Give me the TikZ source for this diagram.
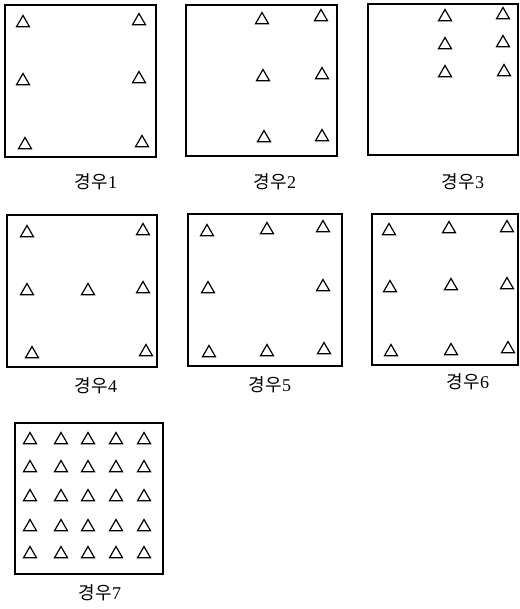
\documentclass[tikz,border=0pt]{standalone}
\usepackage{fontspec}
\setmainfont{Liberation Serif}
\newfontfamily\krfont{Noto Sans CJK KR}
\usetikzlibrary{shapes.geometric}
\tikzset{
  tri/.style={draw=black, line width=1.2pt, regular polygon, regular polygon sides=3, minimum size=15pt, inner sep=0pt},
  frame/.style={draw=black, line width=1.3pt},
  caplabel/.style={font=\fontsize{18pt}{20pt}\selectfont, inner sep=0pt}
}
\newcommand{\lbl}[1]{{\krfont 경우}#1}
\begin{document}
\begin{tikzpicture}[x=1pt,y=-1pt]
\useasboundingbox (0,0) rectangle (519,609);
% box 1
\draw[frame] (5,5) rectangle (156,157);
\foreach \p [count=\i] in {(23,23),(139,21),(23,81),(139,79),(25,145),(142,143)}
  \node[tri] (a\i) at \p {};
\node[caplabel] (c1) at (96,182) {\lbl{1}};
% box 2
\draw[frame] (186,5) rectangle (337,156);
\foreach \p [count=\i] in {(262,20),(321,17),(263,77),(322,75),(264,138),(322,137)}
  \node[tri] (b\i) at \p {};
\node[caplabel] (c2) at (275,182) {\lbl{2}};
% box 3
\draw[frame] (368,4) rectangle (518,155);
\foreach \p [count=\i] in {(445,17),(503,15),(445,45),(503,43),(445,73),(504,72)}
  \node[tri] (d\i) at \p {};
\node[caplabel] (c3) at (463,182) {\lbl{3}};
% box 4
\draw[frame] (7,215) rectangle (157,367);
\foreach \p [count=\i] in {(27,233),(143,231),(27,291),(88,291),(143,289),(32,354),(146,352)}
  \node[tri] (e\i) at \p {};
\node[caplabel] (c4) at (96,386) {\lbl{4}};
% box 5
\draw[frame] (188,214) rectangle (342,366);
\foreach \p [count=\i] in {(207,232),(267,230),(323,228),(208,289),(323,287),(209,353),(267,352),(324,350)}
  \node[tri] (f\i) at \p {};
\node[caplabel] (c5) at (270,385) {\lbl{5}};
% box 6
\draw[frame] (372,214) rectangle (518,365);
\foreach \p [count=\i] in {(389,231),(449,229),(507,228),(390,288),(451,286),(507,285),(391,352),(451,351),(508,349)}
  \node[tri] (g\i) at \p {};
\node[caplabel] (c6) at (468,382) {\lbl{6}};
% box 7
\draw[frame] (15,423) rectangle (163,574);
\foreach \y [count=\j] in {440,468,497,527,554}
  \foreach \x [count=\i] in {30,61,88,116,144}
    \node[tri] (h\j\i) at (\x,\y) {};
\node[caplabel] (c7) at (100,593) {\lbl{7}};
\end{tikzpicture}
\end{document}
